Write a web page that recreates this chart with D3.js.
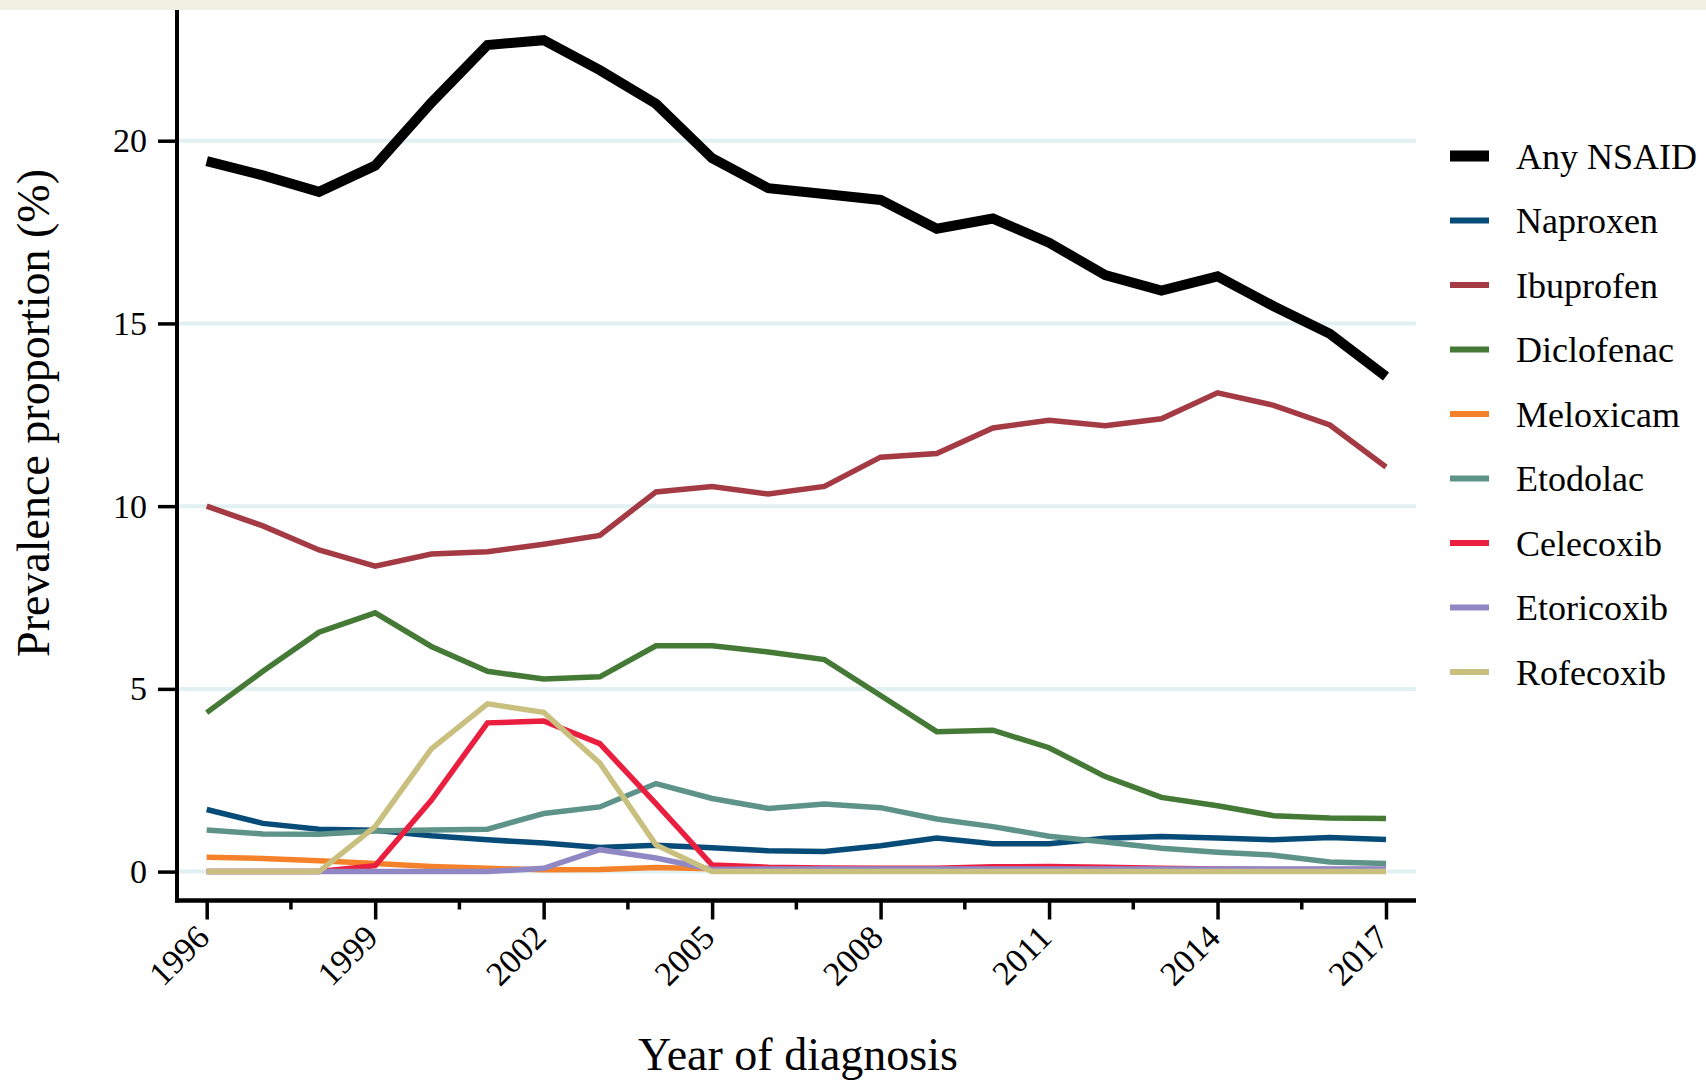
<!DOCTYPE html>
<html>
<head>
<meta charset="utf-8">
<script src="https://cdn.jsdelivr.net/npm/d3@7"></script>
<style>
  body { margin: 0; background: #fff; }
  svg { display: block; font-family: "Liberation Serif", "Times New Roman", serif; }
</style>
</head>
<body>
<div id="chart"></div>
<script>
// values, percent of patients per year of diagnosis
const years = [1996, 1997, 1998, 1999, 2000, 2001, 2002, 2003, 2004, 2005, 2006,
  2007, 2008, 2009, 2010, 2011, 2012, 2013, 2014, 2015, 2016, 2017];
const anyNsaid = [19.44, 19.05, 18.6, 19.32, 21.04, 22.62, 22.75, 21.93, 21.01, 19.52, 18.7,
  18.54, 18.38, 17.59, 17.87, 17.21, 16.32, 15.9, 16.29, 15.47, 14.72, 13.55];
const naproxen = [1.7, 1.32, 1.16, 1.13, 0.98, 0.87, 0.78, 0.66, 0.72, 0.65, 0.57,
  0.55, 0.71, 0.92, 0.76, 0.76, 0.91, 0.96, 0.92, 0.87, 0.93, 0.88];
const ibuprofen = [10.0, 9.46, 8.8, 8.36, 8.69, 8.75, 8.96, 9.2, 10.39, 10.54, 10.33,
  10.54, 11.34, 11.44, 12.14, 12.35, 12.2, 12.39, 13.1, 12.76, 12.22, 11.07];
const diclofenac = [4.35, 5.48, 6.55, 7.08, 6.16, 5.48, 5.27, 5.33, 6.18, 6.18, 6.01,
  5.8, 4.82, 3.83, 3.87, 3.39, 2.6, 2.03, 1.8, 1.53, 1.47, 1.45];
const meloxicam = [0.39, 0.36, 0.3, 0.22, 0.14, 0.09, 0.05, 0.06, 0.11, 0.08, 0.05,
  0.04, 0.04, 0.04, 0.04, 0.04, 0.04, 0.04, 0.04, 0.04, 0.04, 0.04];
const etodolac = [1.14, 1.03, 1.02, 1.11, 1.14, 1.16, 1.59, 1.77, 2.41, 2.0, 1.73,
  1.85, 1.75, 1.44, 1.23, 0.97, 0.81, 0.64, 0.53, 0.45, 0.26, 0.22];
const celecoxib = [0, 0, 0, 0.16, 1.95, 4.07, 4.12, 3.5, 1.86, 0.18, 0.12,
  0.1, 0.09, 0.09, 0.13, 0.14, 0.12, 0.09, 0.07, 0.06, 0.06, 0.06];
const etoricoxib = [0, 0, 0, 0, 0, 0, 0.09, 0.6, 0.37, 0.06, 0.07,
  0.07, 0.07, 0.07, 0.07, 0.07, 0.07, 0.07, 0.07, 0.07, 0.07, 0.07];
const rofecoxib = [0, 0, 0, 1.23, 3.36, 4.59, 4.36, 2.97, 0.73, 0, 0,
  0, 0, 0, 0, 0, 0, 0, 0, 0, 0, 0];

const seriesNames = ['Any NSAID', 'Naproxen', 'Ibuprofen', 'Diclofenac', 'Meloxicam',
  'Etodolac', 'Celecoxib', 'Etoricoxib', 'Rofecoxib'];
const seriesValues = [anyNsaid, naproxen, ibuprofen, diclofenac, meloxicam,
  etodolac, celecoxib, etoricoxib, rofecoxib];
const yTickValues = [0, 5, 10, 15, 20];
const xTickValues = [1996, 1999, 2002, 2005, 2008, 2011, 2014, 2017];
const xMinorTicks = [1997.5, 2000.5, 2003.5, 2006.5, 2009.5, 2012.5, 2015.5];

// styling
const colors = {
  'Any NSAID': '#000000',
  'Naproxen': '#074b78',
  'Ibuprofen': '#a33a44',
  'Diclofenac': '#447a35',
  'Meloxicam': '#f5822a',
  'Etodolac': '#5e9389',
  'Celecoxib': '#ea1f40',
  'Etoricoxib': '#8f88c5',
  'Rofecoxib': '#c9c07f',
};

const width = 1706;
const height = 1082;
const axisX = 177;      // y axis position
const axisY = 900.5;    // x axis position
const axisTop = 10;
const axisRight = 1416;

const x = d3.scaleLinear().domain([1996, 2017]).range([206.7, 1386]);
const y = d3.scaleLinear().domain([0, 20]).range([871.6, 140.7]);

const svg = d3
  .select('#chart')
  .append('svg')
  .attr('width', width)
  .attr('height', height);

svg.append('rect')
  .attr('width', width)
  .attr('height', height)
  .attr('fill', '#fff');

// beige strip along the top
svg.append('rect')
  .attr('width', width)
  .attr('height', 10)
  .attr('fill', '#f0f0e3');

// horizontal grid
svg.append('g')
  .selectAll('line')
  .data(yTickValues)
  .join('line')
  .attr('x1', axisX + 2)
  .attr('x2', axisRight)
  .attr('y1', (d) => y(d))
  .attr('y2', (d) => y(d))
  .attr('stroke', '#e1f1f2')
  .attr('stroke-width', 4);

// series lines, drawn in legend order so rofecoxib ends up on top
const line = d3.line()
  .x((d, i) => x(years[i]))
  .y((d) => y(d));

svg.append('g')
  .selectAll('path')
  .data(seriesNames)
  .join('path')
  .attr('d', (name, i) => line(seriesValues[i]))
  .attr('fill', 'none')
  .attr('stroke', (name) => colors[name])
  .attr('stroke-width', (name) => (name === 'Any NSAID' ? 10 : 5.5));

// y axis
const yAxis = svg.append('g')
  .attr('transform', `translate(${axisX},0)`)
  .call(d3.axisLeft(y).tickValues(yTickValues).tickSize(19).tickPadding(11).tickSizeOuter(0));
yAxis.select('.domain').remove();
yAxis.selectAll('.tick line').attr('stroke', '#000').attr('stroke-width', 3.5);
yAxis.selectAll('.tick text')
  .attr('fill', '#000')
  .style('font-size', '34px')
  .style('font-family', '"Liberation Serif", serif');
yAxis.append('line')
  .attr('x1', 0).attr('x2', 0)
  .attr('y1', axisTop).attr('y2', axisY + 2)
  .attr('stroke', '#000')
  .attr('stroke-width', 4);

// x axis
const xAxis = svg.append('g')
  .attr('transform', `translate(0,${axisY})`)
  .call(d3.axisBottom(x).tickValues(xTickValues).tickSize(19).tickFormat(d3.format('d')).tickSizeOuter(0));
xAxis.select('.domain').remove();
xAxis.selectAll('.tick line').attr('stroke', '#000').attr('stroke-width', 3.5);
xAxis.selectAll('.tick text')
  .attr('fill', '#000')
  .attr('x', 0)
  .attr('y', 0)
  .attr('dy', 0)
  .attr('text-anchor', 'end')
  .attr('transform', 'translate(4,39) rotate(-45)')
  .style('font-size', '34px')
  .style('font-family', '"Liberation Serif", serif');
xAxis.selectAll('.minor')
  .data(xMinorTicks)
  .join('line')
  .attr('class', 'minor')
  .attr('x1', (d) => x(d))
  .attr('x2', (d) => x(d))
  .attr('y1', 0)
  .attr('y2', 9)
  .attr('stroke', '#000')
  .attr('stroke-width', 3.5);
xAxis.append('line')
  .attr('x1', axisX - 2).attr('x2', axisRight)
  .attr('y1', 0).attr('y2', 0)
  .attr('stroke', '#000')
  .attr('stroke-width', 4.5);

// axis titles
svg.append('text')
  .attr('x', 798)
  .attr('y', 1070)
  .attr('text-anchor', 'middle')
  .style('font-size', '46px')
  .text('Year of diagnosis');

svg.append('text')
  .attr('transform', 'translate(49,413) rotate(-90)')
  .attr('text-anchor', 'middle')
  .style('font-size', '46px')
  .text('Prevalence proportion (%)');

// legend
const legend = svg.append('g')
  .selectAll('g')
  .data(seriesNames)
  .join('g')
  .attr('transform', (d, i) => `translate(1450,${156 + i * 64.5})`);

legend.append('line')
  .attr('x1', 0)
  .attr('x2', 39)
  .attr('stroke', (d) => colors[d])
  .attr('stroke-width', (d) => (d === 'Any NSAID' ? 11 : 6));

legend.append('text')
  .attr('x', 66)
  .attr('dy', '0.35em')
  .style('font-size', '36px')
  .text((d) => d);
</script>
</body>
</html>
